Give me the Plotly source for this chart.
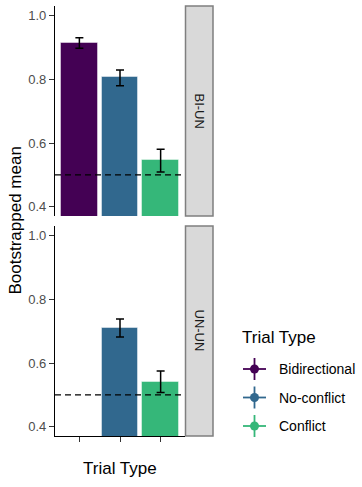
import plotly.graph_objects as go

W, H = 362, 487

# ---- data ----
categories = ["Bidirectional", "No-conflict", "Conflict"]
colors = ["#440154", "#31688E", "#35B779"]
panels = ["BI-UN", "UN-UN"]

top_cats = ["Bidirectional", "No-conflict", "Conflict"]
top_mean = [0.915, 0.807, 0.546]
top_hi = [0.931, 0.830, 0.581]
top_lo = [0.898, 0.780, 0.509]

bot_cats = ["No-conflict", "Conflict"]
bot_mean = [0.711, 0.541]
bot_hi = [0.739, 0.575]
bot_lo = [0.682, 0.508]

chance = 0.5
y_ticks = [0.4, 0.6, 0.8, 1.0]
y_range = [0.371, 1.031]

FONT = "Liberation Sans, Arial, sans-serif"
cmap = dict(zip(categories, colors))


def px(x):
    return x / W


def py(y):
    return 1 - y / H


fig = go.Figure()


def add_panel(cats, mean, hi, lo, xa, ya):
    fig.add_trace(go.Bar(
        x=cats, y=mean, width=0.9,
        marker=dict(color=[cmap[c] for c in cats],
                    line=dict(color="rgba(255,255,255,0.45)", width=1)),
        error_y=dict(type="data", symmetric=False,
                     array=[h - m for h, m in zip(hi, mean)],
                     arrayminus=[m - l for m, l in zip(mean, lo)],
                     color="black", thickness=1.5, width=4),
        xaxis=xa, yaxis=ya, showlegend=False, hoverinfo="skip"))


add_panel(top_cats, top_mean, top_hi, top_lo, "x", "y")
add_panel(bot_cats, bot_mean, bot_hi, bot_lo, "x2", "y2")

x_dom = [px(55), px(185)]
top_dom = [py(216), py(6)]
bot_dom = [py(436), py(226)]

yax = dict(range=y_range, tickvals=y_ticks, ticktext=[f"{v:.1f}" for v in y_ticks],
           showgrid=False, zeroline=False, showline=True, linecolor="black", linewidth=1.3,
           ticks="outside", ticklen=5, tickwidth=1, tickcolor="#333333",
           tickfont=dict(family=FONT, size=13, color="#4d4d4d"))
xax = dict(type="category", categoryorder="array", categoryarray=categories,
           range=[-0.6, 2.6], showgrid=False, zeroline=False, showticklabels=False)

fig.update_layout(
    width=W, height=H, autosize=False,
    margin=dict(l=0, r=0, t=0, b=0),
    paper_bgcolor="white", plot_bgcolor="white",
    bargap=0,
    xaxis=dict(**xax, domain=x_dom, anchor="y", showline=False, ticks=""),
    yaxis=dict(**yax, domain=top_dom, anchor="x"),
    xaxis2=dict(**xax, domain=x_dom, anchor="y2", showline=True, linecolor="black",
                linewidth=1.3, ticks="outside", ticklen=5, tickwidth=1, tickcolor="#333333"),
    yaxis2=dict(**yax, domain=bot_dom, anchor="x2"),
)

shapes = []
annotations = []

# chance lines
for xr, yr in [("x domain", "y"), ("x2 domain", "y2")]:
    shapes.append(dict(type="line", xref=xr, yref=yr, x0=0, x1=1, y0=chance, y1=chance,
                       line=dict(color="black", width=1.3, dash="6px,4px")))

# strips
for name, (y0, y1) in zip(panels, [(6, 216), (226, 436)]):
    shapes.append(dict(type="rect", xref="paper", yref="paper",
                       x0=px(185.5), x1=px(213), y0=py(y1), y1=py(y0),
                       fillcolor="#d9d9d9", line=dict(color="#7f7f7f", width=1.5), layer="below"))
    annotations.append(dict(text=name, xref="paper", yref="paper", x=px(199.5), y=py((y0 + y1) / 2),
                            textangle=90, showarrow=False, xanchor="center", yanchor="middle",
                            font=dict(family=FONT, size=13, color="#1a1a1a")))

# axis titles
annotations.append(dict(text="Bootstrapped mean", xref="paper", yref="paper", x=px(14.5), y=py(221),
                        textangle=-90, showarrow=False, xanchor="center", yanchor="middle",
                        font=dict(family=FONT, size=17, color="black")))
annotations.append(dict(text="Trial Type", xref="paper", yref="paper", x=px(120), y=py(468),
                        showarrow=False, xanchor="center", yanchor="middle",
                        font=dict(family=FONT, size=17, color="black")))

# legend (manual)
annotations.append(dict(text="Trial Type", xref="paper", yref="paper", x=px(240), y=py(337),
                        showarrow=False, xanchor="left", yanchor="middle",
                        font=dict(family=FONT, size=17, color="black")))
leg_y = [369, 397.5, 426]
kx = 254.5
for cat, col, yy in zip(categories, colors, leg_y):
    shapes.append(dict(type="line", xref="paper", yref="paper", x0=px(243), x1=px(266),
                       y0=py(yy), y1=py(yy), line=dict(color=col, width=1.8)))
    shapes.append(dict(type="line", xref="paper", yref="paper", x0=px(kx), x1=px(kx),
                       y0=py(yy - 11), y1=py(yy + 11), line=dict(color=col, width=1.8)))
    shapes.append(dict(type="circle", xref="paper", yref="paper", x0=px(kx - 4.5), x1=px(kx + 4.5),
                       y0=py(yy + 4.5), y1=py(yy - 4.5), fillcolor=col, line=dict(color=col, width=0)))
    annotations.append(dict(text=cat, xref="paper", yref="paper", x=px(277), y=py(yy),
                            showarrow=False, xanchor="left", yanchor="middle",
                            font=dict(family=FONT, size=14, color="black")))

fig.update_layout(shapes=shapes, annotations=annotations)
fig.write_html("out.html", config={"displayModeBar": False},
               post_script="document.body.style.margin='0';")
